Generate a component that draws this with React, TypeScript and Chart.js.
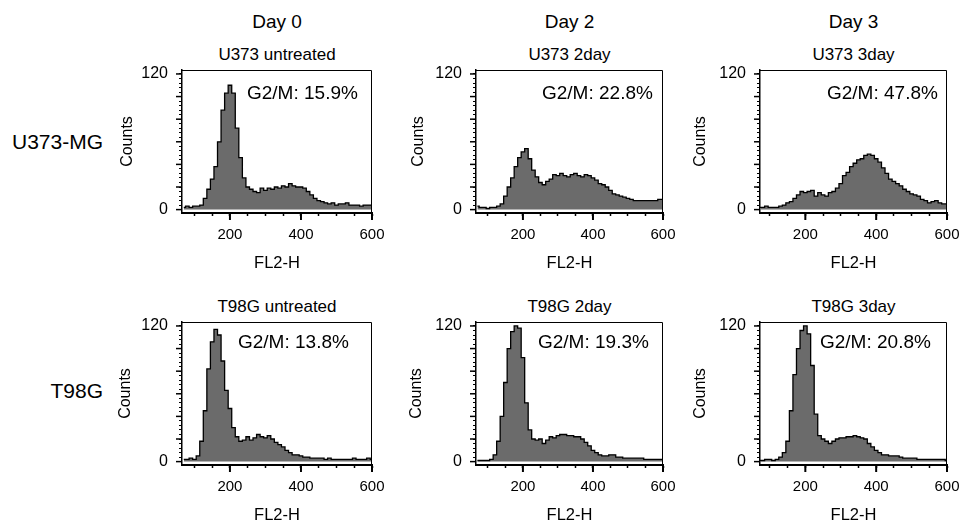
import React, { useEffect, useRef } from 'react';
import { Chart, registerables } from 'chart.js';

Chart.register(...registerables);

const FONT = "'Liberation Sans', Arial, Helvetica, sans-serif";
Chart.defaults.font.family = FONT;
Chart.defaults.color = '#000';

// FL2-H channel bins (centres)
const FL2_BINS = [70, 80, 90, 100, 110, 120, 130, 140, 150, 160, 170, 180, 190, 200, 210, 220, 230, 240, 250, 260, 270, 280, 290, 300, 310, 320, 330, 340, 350, 360, 370, 380, 390, 400, 410, 420, 430, 440, 450, 460, 470, 480, 490, 500, 510, 520, 530, 540, 550, 560, 570, 580, 590, 600];

// Counts per bin
const U373_DAY0 = [2, 3, 2, 3, 3, 4, 10, 18, 27, 38, 60, 88, 103, 110, 103, 72, 46, 28, 20, 18, 16, 15, 19, 17, 19, 18, 20, 19, 21, 20, 23, 21, 20, 20, 19, 16, 13, 10, 8, 7, 6, 5, 6, 4, 5, 5, 6, 4, 4, 4, 3, 4, 4, 4];
const U373_DAY2 = [3, 2, 2, 1, 2, 2, 3, 5, 12, 20, 28, 38, 46, 51, 54, 45, 35, 29, 24, 22, 25, 27, 31, 30, 32, 30, 29, 31, 32, 30, 29, 31, 30, 28, 26, 23, 22, 20, 17, 14, 13, 12, 11, 10, 9, 8, 8, 8, 8, 8, 8, 8, 9, 9];
const U373_DAY3 = [2, 2, 3, 2, 2, 2, 3, 4, 6, 7, 10, 13, 16, 15, 16, 17, 12, 15, 13, 12, 15, 16, 19, 23, 30, 33, 38, 41, 44, 45, 48, 49, 48, 45, 42, 37, 32, 27, 25, 23, 21, 18, 16, 14, 13, 12, 9, 8, 6, 7, 8, 6, 5, 5];
const T98G_DAY0 = [2, 2, 3, 2, 5, 18, 45, 82, 106, 117, 112, 89, 63, 47, 30, 22, 18, 19, 22, 19, 21, 24, 22, 21, 23, 20, 17, 15, 13, 10, 8, 6, 6, 5, 4, 4, 3, 3, 3, 3, 2, 3, 2, 2, 2, 2, 2, 2, 3, 2, 2, 2, 3, 2];
const T98G_DAY2 = [1, 1, 1, 1, 2, 6, 18, 40, 70, 100, 115, 120, 118, 92, 52, 28, 20, 19, 20, 16, 19, 22, 21, 23, 24, 24, 23, 23, 22, 22, 20, 17, 14, 10, 8, 6, 5, 5, 6, 6, 4, 4, 3, 3, 3, 3, 3, 3, 2, 2, 2, 2, 2, 2];
const T98G_DAY3 = [1, 1, 2, 2, 1, 2, 4, 8, 18, 45, 77, 100, 116, 120, 113, 85, 42, 23, 20, 18, 16, 18, 20, 21, 21, 22, 22, 23, 22, 21, 20, 16, 13, 10, 8, 6, 6, 5, 5, 5, 4, 3, 3, 3, 3, 2, 2, 2, 2, 2, 2, 2, 2, 1];

const SERIES = [U373_DAY0, U373_DAY2, U373_DAY3, T98G_DAY0, T98G_DAY2, T98G_DAY3];
const PANEL_TITLES = ['U373 untreated', 'U373 2day', 'U373 3day', 'T98G untreated', 'T98G 2day', 'T98G 3day'];
const G2M_PERCENT = ['15.9', '22.8', '47.8', '13.8', '19.3', '20.8'];
const DAY_LABELS = ['Day 0', 'Day 2', 'Day 3'];
const ROW_LABELS = ['U373-MG', 'T98G'];

const X_TICKS = [100, 150, 200, 250, 300, 350, 400, 450, 500, 550, 600];
const X_TICK_LABELS = [200, 400, 600];
const Y_TICKS = [0, 4, 8, 12, 16, 20, 24, 28, 32, 36, 40, 44, 48, 52, 56, 60, 64, 68, 72, 76, 80, 84, 88, 92, 96, 100, 104, 108, 112, 116, 120];
const Y_MAJOR_TICKS = [0, 20, 40, 60, 80, 100, 120];
const Y_TICK_LABELS = [0, 120];

// layout (page pixels)
const COL_L = [182, 476, 760];
const COL_R = [372, 663, 947];
const ROW_T = [70, 322];
const ROW_B = [213, 465];
const X_MIN = [65, 66, 72];
const COUNTS_CX = [[128, 419, 701], [126, 417, 701]];
const G2M_DX = [[65, 66, 67], [56, 62, 60]];
const G2M_DY = [24, 21];

const YW = 72;
const PT = 26;
const XH = 62;
const PR = 28;

const framePlugin = {
  id: 'frameTicks',
  afterDraw(chart: any) {
    const { ctx, chartArea, scales } = chart;
    const { left, right, top, bottom } = chartArea;
    ctx.save();
    ctx.strokeStyle = '#000';
    ctx.lineWidth = 1;
    ctx.beginPath();
    ctx.moveTo(left, top + 0.5);
    ctx.lineTo(right - 0.5, top + 0.5);
    ctx.lineTo(right - 0.5, bottom);
    ctx.stroke();
    ctx.lineWidth = 2;
    X_TICK_LABELS.forEach((v) => {
      const px = scales.x.getPixelForValue(v);
      ctx.beginPath();
      ctx.moveTo(px, bottom);
      ctx.lineTo(px, bottom + 7);
      ctx.stroke();
    });
    ctx.lineWidth = 1.5;
    Y_MAJOR_TICKS.forEach((v) => {
      const py = scales.y.getPixelForValue(v);
      ctx.beginPath();
      ctx.moveTo(left - 6, py);
      ctx.lineTo(left, py);
      ctx.stroke();
    });
    ctx.restore();
  },
};

const g2mPlugin = {
  id: 'g2m',
  afterDatasetsDraw(chart: any, _args: any, opts: any) {
    const { ctx, chartArea } = chart;
    ctx.save();
    ctx.fillStyle = '#000';
    ctx.font = `19px ${FONT}`;
    ctx.textAlign = 'left';
    ctx.textBaseline = 'middle';
    ctx.fillText(opts.text, chartArea.left + opts.dx, chartArea.top + opts.dy);
    ctx.restore();
  },
};

function Panel({ idx }: { idx: number }) {
  const ref = useRef<HTMLCanvasElement>(null);
  const col = idx % 3;
  const row = Math.floor(idx / 3);
  const L = COL_L[col];
  const R = COL_R[col];
  const T = ROW_T[row];
  const B = ROW_B[row];
  const cw = YW + (R - L) + PR;
  const ch = PT + (B - T) + XH;
  const canvasLeft = L - YW;
  const countsPad = COUNTS_CX[row][col] - canvasLeft - 9.6;

  useEffect(() => {
    if (!ref.current) return;
    const chart = new Chart(ref.current, {
      type: 'line',
      data: {
        datasets: [
          {
            data: FL2_BINS.map((x, j) => ({ x, y: SERIES[idx][j] })),
            stepped: 'middle',
            fill: 'origin',
            backgroundColor: '#6b6b6b',
            borderColor: '#000',
            borderWidth: 1.3,
            pointRadius: 0,
          } as any,
        ],
      },
      options: {
        animation: false,
        responsive: false,
        maintainAspectRatio: false,
        devicePixelRatio: 1,
        layout: { padding: { left: 0, top: PT, right: PR, bottom: 0 } },
        plugins: {
          legend: { display: false },
          tooltip: { enabled: false },
          g2m: { text: `G2/M: ${G2M_PERCENT[idx]}%`, dx: G2M_DX[row][col], dy: G2M_DY[row] },
        } as any,
        scales: {
          x: {
            type: 'linear',
            min: X_MIN[col],
            max: 600,
            afterBuildTicks: (s: any) => {
              s.ticks = X_TICKS.map((v) => ({ value: v }));
            },
            afterFit: (s: any) => {
              s.height = XH;
            },
            ticks: {
              autoSkip: false,
              maxRotation: 0,
              padding: 10,
              color: '#000',
              font: { size: 15 },
              callback: (v: any) => (X_TICK_LABELS.includes(Number(v)) ? String(v) : ''),
            },
            grid: { drawOnChartArea: false, drawTicks: true, tickLength: 3, tickColor: '#000', tickWidth: 1.5 },
            border: { display: true, color: '#000', width: 2 },
            title: { display: true, text: 'FL2-H', color: '#000', font: { size: 16.5 }, padding: { top: 0, bottom: 2 } },
          },
          y: {
            type: 'linear',
            min: -3,
            max: 123.5,
            afterBuildTicks: (s: any) => {
              s.ticks = Y_TICKS.map((v) => ({ value: v }));
            },
            afterFit: (s: any) => {
              s.width = YW;
            },
            ticks: {
              autoSkip: false,
              padding: 11,
              color: '#000',
              font: { size: 16 },
              callback: (v: any) => (Y_TICK_LABELS.includes(Number(v)) ? String(v) : ''),
            },
            grid: { drawOnChartArea: false, drawTicks: true, tickLength: 3, tickColor: '#000', tickWidth: 1 },
            border: { display: true, color: '#000', width: 1.5 },
            title: { display: true, text: 'Counts', color: '#000', font: { size: 16 }, padding: { top: countsPad, bottom: 0 } },
          },
        },
      } as any,
      plugins: [framePlugin, g2mPlugin],
    });
    return () => chart.destroy();
  }, [idx]);

  return (
    <canvas
      ref={ref}
      width={cw}
      height={ch}
      style={{ position: 'absolute', left: canvasLeft, top: T - PT, width: cw, height: ch }}
    />
  );
}

export default function App() {
  const textBase: React.CSSProperties = { position: 'absolute', fontFamily: FONT, color: '#000', whiteSpace: 'nowrap' };
  return (
    <div style={{ position: 'absolute', left: 0, top: 0, width: 960, height: 521, overflow: 'hidden', background: '#fff' }}>
      {DAY_LABELS.map((d, c) => (
        <div key={d} style={{ ...textBase, left: (COL_L[c] + COL_R[c]) / 2 - 100, width: 200, textAlign: 'center', top: 11.5, fontSize: 19, lineHeight: '19px' }}>
          {d}
        </div>
      ))}
      {PANEL_TITLES.map((t, i) => {
        const c = i % 3;
        const r = Math.floor(i / 3);
        return (
          <div key={t} style={{ ...textBase, left: (COL_L[c] + COL_R[c]) / 2 - 100, width: 200, textAlign: 'center', top: ROW_T[r] - 24, fontSize: 17, lineHeight: '17px' }}>
            {t}
          </div>
        );
      })}
      {ROW_LABELS.map((l, r) => (
        <div key={l} style={{ ...textBase, left: 0, width: 103, textAlign: 'right', top: r === 0 ? 131 : 380, fontSize: 21, lineHeight: '21px' }}>
          {l}
        </div>
      ))}
      {SERIES.map((_, i) => (
        <Panel key={i} idx={i} />
      ))}
    </div>
  );
}
